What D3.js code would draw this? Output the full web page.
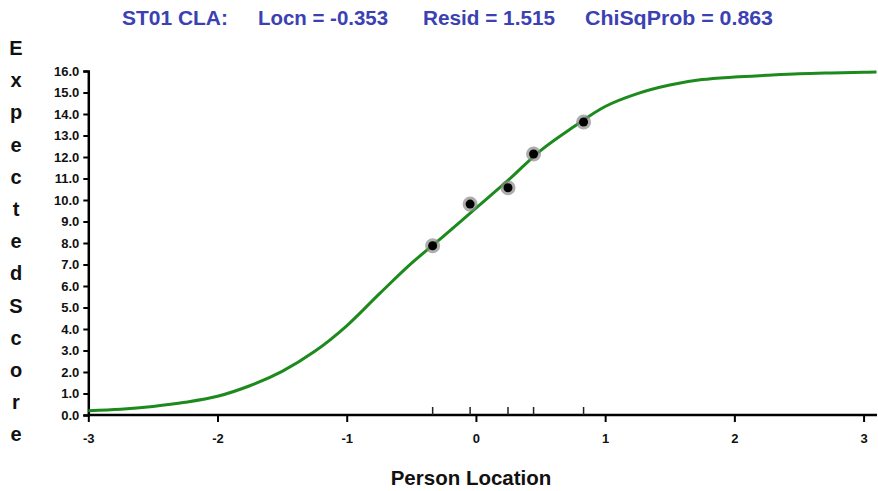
<!DOCTYPE html>
<html><head><meta charset="utf-8">
<script src="https://cdn.jsdelivr.net/npm/d3@7"></script>
<style>body{margin:0;background:#fff;} svg{display:block;}</style>
</head><body>
<svg id="c" width="878" height="491"></svg>
<script>
// ---- data ----
const titleParts = ["ST01 CLA:", "Locn = -0.353", "Resid = 1.515", "ChiSqProb = 0.863"];
const xTicks = [-3, -2, -1, 0, 1, 2, 3];
const yTicks = [0, 1, 2, 3, 4, 5, 6, 7, 8, 9, 10, 11, 12, 13, 14, 15, 16];
const curveX = [-3.0,-2.75,-2.5,-2.25,-2.0,-1.75,-1.5,-1.25,-1.0,-0.75,-0.5,-0.25,0.0,0.25,0.5,0.75,1.0,1.25,1.5,1.75,2.0,2.25,2.5,2.75,3.0,3.1];
const curveY = [0.20,0.27,0.40,0.59,0.87,1.36,2.03,2.95,4.15,5.62,7.05,8.32,9.62,10.92,12.30,13.38,14.35,14.95,15.35,15.60,15.72,15.80,15.87,15.91,15.94,15.95];
const obsX = [-0.335, -0.045, 0.248, 0.446, 0.833];
const obsY = [7.87, 9.81, 10.57, 12.14, 13.63];
const yLabel = "Expected Score";
const xLabel = "Person Location";

// ---- drawing ----
const svg = d3.select("#c");
const x = d3.scaleLinear().domain([-3, 3.1]).range([88.3, 876.5]);
const y = d3.scaleLinear().domain([0, 16]).range([415, 71]);
const font = "'Liberation Sans', Arial, sans-serif";
const hy = s => String(s).replace("\u2212","-");

// title
const titleX = [122, 258, 423, 585];
const titleW = [106, 130, 132, 188];
svg.selectAll("text.title").data(titleParts).join("text")
  .attr("class","title")
  .attr("x",(d,i)=>titleX[i]).attr("y",25)
  .attr("textLength",(d,i)=>titleW[i]).attr("lengthAdjust","spacingAndGlyphs")
  .attr("font-family",font).attr("font-weight","bold").attr("font-size",19.5)
  .attr("fill","#3b41b3").text(d=>d);

// y axis
const yAxis = svg.append("g").attr("transform","translate(88.3,0)")
  .call(d3.axisLeft(y).tickValues(yTicks).tickFormat(d=>d.toFixed(1)).tickSize(5).tickPadding(4));
yAxis.select(".domain").attr("stroke","#000").attr("stroke-width",2.5);
yAxis.selectAll(".tick line").attr("stroke","#000").attr("stroke-width",2);
yAxis.selectAll(".tick text").attr("font-family",font).attr("font-weight","bold").attr("font-size",13).attr("fill","#111");

// x axis
const xAxis = svg.append("g").attr("transform","translate(0,415)")
  .call(d3.axisBottom(x).tickValues(xTicks).tickFormat(d=>hy(d3.format("d")(d))).tickSize(7).tickPadding(12));
xAxis.select(".domain").attr("stroke","#000").attr("stroke-width",2.5).attr("d","M88.3,0H877");
xAxis.selectAll(".tick line").attr("stroke","#000").attr("stroke-width",2);
xAxis.selectAll(".tick text").attr("font-family",font).attr("font-weight","bold").attr("font-size",13).attr("fill","#111");

// observation ticks (upward)
svg.append("g").selectAll("line").data(obsX).join("line")
  .attr("x1",d=>x(d)).attr("x2",d=>x(d)).attr("y1",415).attr("y2",407)
  .attr("stroke","#222").attr("stroke-width",1.5);

// curve
const pts = curveX.map((v,i)=>[v,curveY[i]]);
svg.append("path").datum(pts)
  .attr("d", d3.line().x(d=>x(d[0])).y(d=>y(d[1])).curve(d3.curveCatmullRom.alpha(0.5)))
  .attr("fill","none").attr("stroke","#1c8a1c").attr("stroke-width",3);

// observed points
const obs = obsX.map((v,i)=>[v,obsY[i]]);
const g = svg.append("g");
g.selectAll("circle.halo").data(obs).join("circle").attr("class","halo")
  .attr("cx",d=>x(d[0])).attr("cy",d=>y(d[1])).attr("r",7.5)
  .attr("fill","#8a8a8a").attr("opacity",0.7);
g.selectAll("circle.dot").data(obs).join("circle").attr("class","dot")
  .attr("cx",d=>x(d[0])).attr("cy",d=>y(d[1])).attr("r",4.5)
  .attr("fill","#000");

// y label (stacked letters)
const letters = yLabel.replace(" ","").split("");
svg.append("g").selectAll("text").data(letters).join("text")
  .attr("x",16).attr("y",(d,i)=>55 + i*32.2)
  .attr("text-anchor","middle")
  .attr("font-family",font).attr("font-weight","bold").attr("font-size",20)
  .attr("fill","#111").text(d=>d);

// x label
svg.append("text").attr("x",471).attr("y",485).attr("text-anchor","middle")
  .attr("font-family",font).attr("font-weight","bold").attr("font-size",20.5)
  .attr("fill","#111").text(xLabel);
</script>
</body></html>
